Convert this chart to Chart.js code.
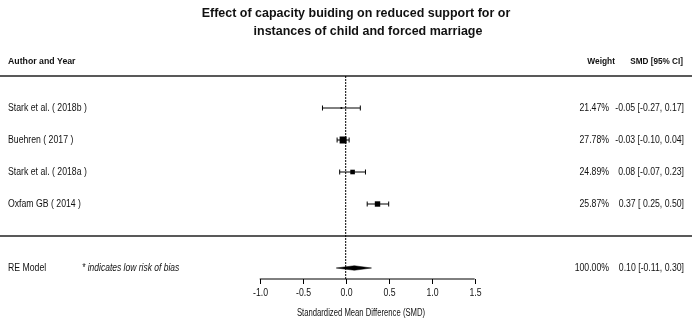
<!DOCTYPE html>
<html>
<head>
<meta charset="utf-8">
<script src="https://cdn.jsdelivr.net/npm/chart.js@4.4.1/dist/chart.umd.min.js"></script>
<style>
  html, body { margin: 0; padding: 0; background: #fff; }
  #wrap { width: 692px; height: 322px; }
</style>
</head>
<body>
<div id="wrap"><canvas id="forest" width="692" height="322"></canvas></div>
<script>
// --- data ---
const studies = ['Stark et al. ( 2018b )', 'Buehren ( 2017 )', 'Stark et al. ( 2018a )', 'Oxfam GB ( 2014 )'];
const smd = [-0.05, -0.03, 0.08, 0.37];
const ciLow = [-0.27, -0.10, -0.07, 0.25];
const ciHigh = [0.17, 0.04, 0.23, 0.50];
const weights = [21.47, 27.78, 24.89, 25.87];
const rows = [4, 3, 2, 1];

const reModel = { label: 'RE Model', est: 0.10, low: -0.11, high: 0.30, weight: 100.00, row: -1 };
const tickValues = [-1.0, -0.5, 0.0, 0.5, 1.0, 1.5];

const titleLines = ['Effect of capacity buiding on reduced support for or', 'instances of child and forced marriage'];
const axisTitle = 'Standardized Mean Difference (SMD)';
const footnote = '* indicates low risk of bias';

// --- helpers ---
const fmt = v => (v < 0 ? '-' : '') + Math.abs(v).toFixed(2);
const ciText = (e, l, h) => fmt(e) + ' [' + (l < 0 ? '' : ' ') + fmt(l) + ', ' + fmt(h) + ']';

// box size from weights, same idea as metafor (0.5 .. 2)
const wMin = Math.min(...weights), wMax = Math.max(...weights);
const psize = weights.map(w => (w - wMin) / (wMax - wMin) * 1.5 + 0.5);

const axisRow = -1.344;
const topRule = 5, bottomRule = 0;
const xLo = -4.02, xHi = 4.027;

const datasets = [];

// CI whiskers
studies.forEach((s, i) => {
    datasets.push({
        type: 'line',
        data: [{ x: ciLow[i], y: rows[i] }, { x: ciHigh[i], y: rows[i] }],
        borderColor: '#000',
        borderWidth: 1,
        pointStyle: 'line',
        rotation: 90,
        pointRadius: 2.5,
        pointBorderWidth: 1,
        pointBorderColor: '#000'
    });
});

// boxes
datasets.push({
    type: 'scatter',
    data: studies.map((s, i) => ({ x: smd[i], y: rows[i] })),
    pointStyle: 'rect',
    pointRadius: psize.map(p => p * 3.5 / Math.SQRT2),
    backgroundColor: '#000',
    borderColor: '#000',
    borderWidth: 0
});

// summary diamond
const dh = 0.07;
datasets.push({
    type: 'line',
    data: [
        { x: reModel.low, y: reModel.row },
        { x: reModel.est, y: reModel.row + dh },
        { x: reModel.high, y: reModel.row },
        { x: reModel.est, y: reModel.row - dh },
        { x: reModel.low, y: reModel.row }
    ],
    borderColor: '#000',
    borderWidth: 0.5,
    backgroundColor: '#000',
    fill: 'shape',
    pointRadius: 0,
    tension: 0
});

// reference line at 0
datasets.push({
    type: 'line',
    data: [{ x: 0, y: topRule }, { x: 0, y: axisRow }],
    borderColor: '#000',
    borderWidth: 1,
    borderDash: [2, 1],
    pointRadius: 0
});

// horizontal rules
[topRule, bottomRule].forEach(r => {
    datasets.push({
        type: 'line',
        data: [{ x: xLo, y: r }, { x: xHi, y: r }],
        borderColor: '#222',
        borderWidth: 1.5,
        pointRadius: 0
    });
});

// axis line
datasets.push({
    type: 'line',
    data: [{ x: tickValues[0], y: axisRow }, { x: tickValues[tickValues.length - 1], y: axisRow }],
    borderColor: '#000',
    borderWidth: 1,
    pointRadius: 0
});

function drawText(ctx, text, x, y, align, font, sx) {
    ctx.save();
    ctx.font = font;
    ctx.textBaseline = 'middle';
    ctx.textAlign = align;
    ctx.translate(x, y);
    ctx.scale(sx, 1);
    ctx.fillText(text, 0, 0);
    ctx.restore();
}

const textPlugin = {
    id: 'forestText',
    afterDatasetsDraw(chart) {
        const ctx = chart.ctx;
        const xs = chart.scales.x, ys = chart.scales.y;
        const F = '"Liberation Sans", Arial, sans-serif';
        const reg = '10px ' + F, sx = 0.87;
        ctx.fillStyle = '#111';

        // title
        drawText(ctx, titleLines[0], 356, 13, 'center', 'bold 13px ' + F, 0.96);
        drawText(ctx, titleLines[1], 368, 31, 'center', 'bold 13px ' + F, 0.96);

        // headers
        const hy = ys.getPixelForValue(5.45);
        drawText(ctx, 'Author and Year', 8, hy, 'left', 'bold 9.5px ' + F, 0.92);
        drawText(ctx, 'Weight', 615, hy, 'right', 'bold 9.5px ' + F, 0.88);
        drawText(ctx, 'SMD [95% CI]', 683, hy, 'right', 'bold 9.5px ' + F, 0.86);

        // study rows
        studies.forEach((s, i) => {
            const y = ys.getPixelForValue(rows[i]);
            drawText(ctx, s, 8, y, 'left', reg, sx);
            drawText(ctx, weights[i].toFixed(2) + '%', 609, y, 'right', reg, sx);
            drawText(ctx, ciText(smd[i], ciLow[i], ciHigh[i]), 684, y, 'right', reg, sx);
        });

        // summary row
        const ry = ys.getPixelForValue(reModel.row);
        drawText(ctx, reModel.label, 8, ry, 'left', reg, sx);
        drawText(ctx, footnote, 82, ry, 'left', 'italic ' + reg, 0.85);
        drawText(ctx, reModel.weight.toFixed(2) + '%', 609, ry, 'right', reg, sx);
        drawText(ctx, ciText(reModel.est, reModel.low, reModel.high), 684, ry, 'right', reg, sx);

        // axis ticks and labels
        const ay = ys.getPixelForValue(axisRow);
        ctx.save();
        ctx.strokeStyle = '#000';
        ctx.lineWidth = 1;
        tickValues.forEach(t => {
            const px = Math.round(xs.getPixelForValue(t)) + 0.5;
            ctx.beginPath();
            ctx.moveTo(px, ay);
            ctx.lineTo(px, ay + 5);
            ctx.stroke();
            drawText(ctx, t.toFixed(1), px, ay + 14, 'center', reg, sx);
        });
        ctx.restore();
        drawText(ctx, axisTitle, 361, ay + 34, 'center', reg, 0.77);
    }
};

new Chart(document.getElementById('forest'), {
    data: { datasets },
    options: {
        responsive: false,
        devicePixelRatio: 1,
        animation: false,
        layout: { padding: 0, autoPadding: false },
        plugins: { legend: { display: false }, tooltip: { enabled: false } },
        scales: {
            x: { type: 'linear', min: xLo, max: xHi, display: false },
            y: { type: 'linear', min: -2.6875, max: 7.375, display: false }
        }
    },
    plugins: [textPlugin]
});
</script>
</body>
</html>
